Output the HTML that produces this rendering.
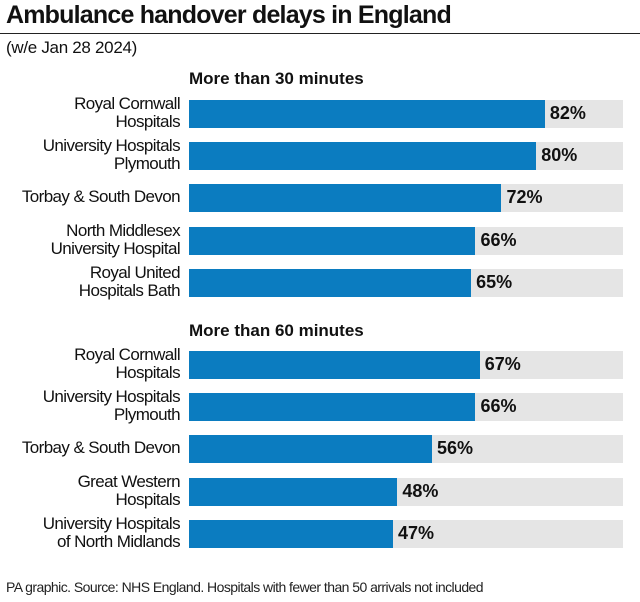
<!DOCTYPE html>
<html><head><style>
body{margin:0;width:640px;height:602px;background:#fff;font-family:"Liberation Sans",sans-serif;position:relative;overflow:hidden;color:#111}
.a{position:absolute}
.t{left:6px;top:1px;font-size:25px;font-weight:bold;letter-spacing:-0.8px}
.hr{left:0;top:33px;width:640px;height:1px;background:#222}
.s{left:6px;top:38px;font-size:17px;letter-spacing:-0.3px}
.h{left:189px;font-size:17px;font-weight:bold;letter-spacing:0px}
.l{right:460px;width:200px;text-align:right;font-size:17px;line-height:18px;letter-spacing:-0.6px}
.g{left:189px;width:434px;height:28px;background:#e5e5e5}
.b{left:189px;height:28px;background:#0b7cc0}
.v{font-size:18px;font-weight:bold}
.f{left:6px;top:579px;font-size:14px;letter-spacing:-0.55px;color:#222}
</style></head><body>
<div class="a t">Ambulance handover delays in England</div>
<div class="a hr"></div>
<div class="a s">(w/e Jan 28 2024)</div>
<div class="a h" style="top:69px">More than 30 minutes</div>
<div class="a h" style="top:321px">More than 60 minutes</div>
<div id="c"></div>
<div class="a f">PA graphic. Source: NHS England. Hospitals with fewer than 50 arrivals not included</div>
<script>
var d=[["Royal Cornwall<br>Hospitals",82,114],["University Hospitals<br>Plymouth",80,156],["Torbay &amp; South Devon",72,198],["North Middlesex<br>University Hospital",66,241],["Royal United<br>Hospitals Bath",65,283],
["Royal Cornwall<br>Hospitals",67,365],["University Hospitals<br>Plymouth",66,407],["Torbay &amp; South Devon",56,449],["Great Western<br>Hospitals",48,492],["University Hospitals<br>of North Midlands",47,534]];
var h="";d.forEach(function(r){var y=r[2],w=r[1]*4.34;var two=r[0].indexOf("<br>")>0;
h+='<div class="a l" style="top:'+(y-(two?19:10))+'px">'+r[0]+'</div>';
h+='<div class="a g" style="top:'+(y-14)+'px"></div><div class="a b" style="top:'+(y-14)+'px;width:'+w+'px"></div>';
h+='<div class="a v" style="left:'+(189+w+5)+'px;top:'+(y-11)+'px">'+r[1]+'%</div>';});
document.getElementById("c").innerHTML=h;
</script>
</body></html>
